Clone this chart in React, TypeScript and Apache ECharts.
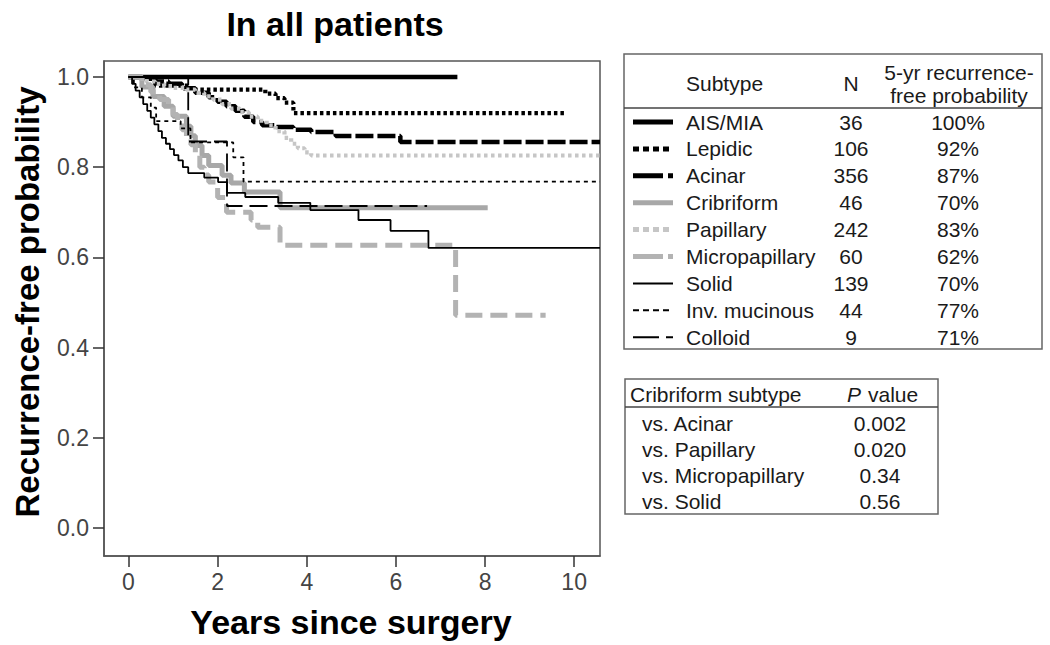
import React, { useEffect, useRef } from "react";
import * as echarts from "echarts";

// ---- Kaplan-Meier curves (years since surgery, recurrence-free probability) ----
const aisT = [0, 7.38];
const aisS = [1, 1];
const lepidicT = [0, 0.6, 1.4, 3.07, 3.3, 3.5, 3.7, 9.8];
const lepidicS = [1, 0.981, 0.972, 0.963, 0.953, 0.943, 0.92, 0.92];
const acinarT = [0, 0.3, 0.6, 0.9, 1.2, 1.5, 1.8, 2.0, 2.2, 2.4, 2.6, 2.8, 3.0, 3.3, 3.7, 4.1, 4.65, 6.1, 10.58];
const acinarS = [1, 0.996, 0.99, 0.985, 0.975, 0.965, 0.955, 0.945, 0.935, 0.925, 0.912, 0.9, 0.893, 0.889, 0.883, 0.878, 0.869, 0.856, 0.856];
const cribT = [0, 0.3, 0.55, 0.8, 1.0, 1.3, 1.4, 1.5, 1.65, 1.8, 2.1, 2.3, 2.6, 3.4, 8.06];
const cribS = [1, 0.978, 0.957, 0.935, 0.913, 0.891, 0.87, 0.848, 0.826, 0.804, 0.782, 0.765, 0.745, 0.71, 0.71];
const papT = [0, 0.2, 0.4, 0.6, 0.8, 1.0, 1.3, 1.5, 1.7, 1.9, 2.1, 2.3, 2.5, 2.7, 2.9, 3.1, 3.3, 3.5, 3.65, 3.8, 3.95, 4.1, 10.58];
const papS = [1, 0.996, 0.99, 0.985, 0.98, 0.976, 0.972, 0.965, 0.957, 0.95, 0.94, 0.93, 0.922, 0.912, 0.903, 0.893, 0.88, 0.865, 0.852, 0.842, 0.833, 0.826, 0.826];
const microT = [0, 0.3, 0.5, 0.7, 0.9, 1.0, 1.1, 1.2, 1.3, 1.4, 1.5, 1.6, 1.7, 1.8, 2.0, 2.2, 2.75, 2.9, 3.4, 7.34, 9.36];
const microS = [1, 0.983, 0.967, 0.95, 0.933, 0.917, 0.9, 0.883, 0.867, 0.85, 0.833, 0.8, 0.783, 0.767, 0.733, 0.7, 0.683, 0.667, 0.627, 0.472, 0.472];
const solidT = [0, 0.08, 0.16, 0.25, 0.33, 0.42, 0.5, 0.58, 0.67, 0.75, 0.84, 0.93, 1.02, 1.12, 1.22, 1.34, 1.7, 2.01, 2.21, 2.62, 3.36, 4.08, 5.16, 5.88, 6.73, 10.58];
const solidS = [1, 0.985, 0.97, 0.955, 0.94, 0.925, 0.91, 0.895, 0.88, 0.865, 0.852, 0.84, 0.827, 0.815, 0.8, 0.787, 0.777, 0.767, 0.743, 0.734, 0.721, 0.705, 0.683, 0.659, 0.621, 0.621];
const mucT = [0, 0.12, 0.3, 0.5, 0.62, 1.17, 1.39, 2.35, 2.58, 10.58];
const mucS = [1, 0.977, 0.955, 0.932, 0.902, 0.886, 0.855, 0.822, 0.768, 0.768];
const colloidT = [0, 1.34, 2.21, 6.7];
const colloidS = [1, 0.857, 0.714, 0.714];

// ---- table contents ----
const subtypes = ["AIS/MIA", "Lepidic", "Acinar", "Cribriform", "Papillary", "Micropapillary", "Solid", "Inv. mucinous", "Colloid"];
const nValues = ["36", "106", "356", "46", "242", "60", "139", "44", "9"];
const fiveYr = ["100%", "92%", "87%", "70%", "83%", "62%", "70%", "77%", "71%"];
const comparisons = ["vs. Acinar", "vs. Papillary", "vs. Micropapillary", "vs. Solid"];
const pValues = ["0.002", "0.020", "0.34", "0.56"];
const xTicks = [0, 2, 4, 6, 8, 10];
const yTicks = [0, 0.2, 0.4, 0.6, 0.8, 1.0];

const curves = [
  [aisT, aisS], [lepidicT, lepidicS], [acinarT, acinarS], [cribT, cribS], [papT, papS],
  [microT, microS], [solidT, solidS], [mucT, mucS], [colloidT, colloidS],
];

const FONT = "'Liberation Sans', Arial, Helvetica, sans-serif";

// plot line styles per subtype
const plotStyles = [
  { color: "#000", width: 4.5, type: "solid" as any },
  { color: "#000", width: 4.2, type: [3.5, 3] },
  { color: "#000", width: 4.5, type: [18, 4] },
  { color: "#a8a8a8", width: 5, type: "solid" as any },
  { color: "#c6c6c6", width: 4.2, type: [3.5, 3.5] },
  { color: "#b3b3b3", width: 5, type: [17, 8] },
  { color: "#000", width: 1.8, type: "solid" as any },
  { color: "#000", width: 1.8, type: [4, 4] },
  { color: "#000", width: 1.8, type: [18, 7] },
];
// legend sample styles
const sampleStyles = [
  { color: "#000", width: 5, dash: null },
  { color: "#000", width: 5, dash: [6, 4] },
  { color: "#000", width: 5, dash: [30, 5] },
  { color: "#a8a8a8", width: 5, dash: null },
  { color: "#c6c6c6", width: 5, dash: [6, 4] },
  { color: "#b3b3b3", width: 5, dash: [30, 5] },
  { color: "#000", width: 2, dash: null },
  { color: "#000", width: 2, dash: [6, 4] },
  { color: "#000", width: 2, dash: [26, 7] },
];

export default function App() {
  const ref = useRef<HTMLDivElement>(null);
  useEffect(() => {
    if (!ref.current) return;
    const chart = echarts.init(ref.current, null, { renderer: "svg" });

    const series = curves.map(([t, s], i) => ({
      type: "line",
      name: subtypes[i],
      step: "end",
      symbol: "none",
      data: (t as number[]).map((v, k) => [v, (s as number[])[k]]),
      lineStyle: { color: plotStyles[i].color, width: plotStyles[i].width, type: plotStyles[i].type, cap: "butt" },
      z: 2 + i,
      silent: true,
    }));

    const text = (x: number, y: number, str: string, opts: any = {}) => ({
      type: "text",
      x,
      y,
      z: 100,
      style: {
        text: str,
        fontFamily: FONT,
        fontSize: opts.size || 21,
        fontWeight: opts.weight || "normal",
        fontStyle: opts.style || "normal",
        fill: opts.fill || "#1a1a1a",
        align: opts.align || "left",
        verticalAlign: "middle",
      },
      rotation: opts.rotation || 0,
    });

    const graphics: any[] = [];
    // title & axis names
    graphics.push(text(335, 24, "In all patients", { size: 34, weight: "bold", align: "center", fill: "#000" }));
    graphics.push(text(351, 622, "Years since surgery", { size: 34, weight: "bold", align: "center", fill: "#000" }));
    graphics.push(text(27, 302, "Recurrence-free probability", { size: 33, weight: "bold", align: "center", fill: "#000", rotation: Math.PI / 2 }));

    // legend table
    graphics.push({ type: "rect", shape: { x: 624, y: 54, width: 418, height: 295 }, style: { fill: "none", stroke: "#666", lineWidth: 1.5 }, z: 100 });
    graphics.push({ type: "line", shape: { x1: 624, y1: 108, x2: 1042, y2: 108 }, style: { stroke: "#444", lineWidth: 1.5 }, z: 100 });
    graphics.push(text(686, 83, "Subtype"));
    graphics.push(text(851, 83, "N", { align: "center" }));
    graphics.push(text(959, 72, "5-yr recurrence-", { align: "center" }));
    graphics.push(text(959, 95, "free probability", { align: "center" }));
    subtypes.forEach((name, i) => {
      const y = 122 + i * 26.9;
      const st = sampleStyles[i];
      graphics.push({
        type: "line",
        shape: { x1: 633, y1: y, x2: 673, y2: y },
        style: { stroke: st.color, lineWidth: st.width, lineDash: st.dash || undefined, lineCap: "butt" },
        z: 100,
      });
      graphics.push(text(686, y, name));
      graphics.push(text(851, y, nValues[i], { align: "center" }));
      graphics.push(text(958, y, fiveYr[i], { align: "center" }));
    });

    // p-value table
    graphics.push({ type: "rect", shape: { x: 625, y: 379, width: 313, height: 135 }, style: { fill: "none", stroke: "#666", lineWidth: 1.5 }, z: 100 });
    graphics.push({ type: "line", shape: { x1: 625, y1: 407, x2: 938, y2: 407 }, style: { stroke: "#444", lineWidth: 1.5 }, z: 100 });
    graphics.push(text(630, 394, "Cribriform subtype"));
    graphics.push(text(847, 394, "P", { style: "italic" }));
    graphics.push(text(868, 394, "value"));
    comparisons.forEach((c, i) => {
      const y = 423 + i * 26.3;
      graphics.push(text(642, y, c));
      graphics.push(text(880, y, pValues[i], { align: "center" }));
    });

    chart.setOption({
      animation: false,
      backgroundColor: "#fff",
      grid: { left: 104, right: 450, top: 61, bottom: 89, show: true, borderColor: "#555", borderWidth: 1.5, backgroundColor: "transparent" },
      xAxis: {
        type: "value",
        min: -0.55,
        max: 10.58,
        axisLine: { show: true, onZero: false, lineStyle: { color: "#555", width: 1.5 } },
        axisTick: { show: true, length: 11, customValues: xTicks, lineStyle: { color: "#333", width: 1.5 } },
        axisLabel: { customValues: xTicks, margin: 14, fontSize: 23, color: "#444", fontFamily: FONT, formatter: (v: number) => String(v) },
        splitLine: { show: false },
      },
      yAxis: {
        type: "value",
        min: -0.062,
        max: 1.0355,
        axisLine: { show: true, onZero: false, lineStyle: { color: "#555", width: 1.5 } },
        axisTick: { show: true, length: 11, customValues: yTicks, lineStyle: { color: "#333", width: 1.5 } },
        axisLabel: { customValues: yTicks, margin: 15, fontSize: 23, color: "#444", fontFamily: FONT, formatter: (v: number) => v.toFixed(1) },
        splitLine: { show: false },
      },
      series,
      graphic: graphics,
    });
    return () => chart.dispose();
  }, []);
  return <div ref={ref} style={{ position: "absolute", left: 0, top: 0, width: 1050, height: 645 }} />;
}
